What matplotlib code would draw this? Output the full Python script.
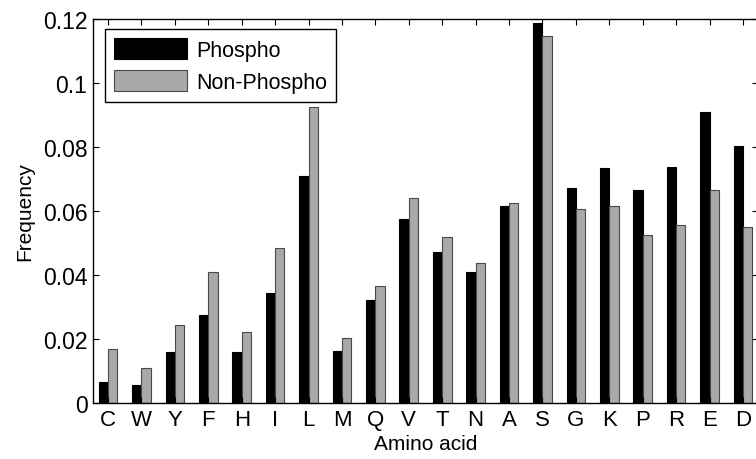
import matplotlib
matplotlib.use("Agg")
import matplotlib.pyplot as plt
import numpy as np

amino_acids = ["C", "W", "Y", "F", "H", "I", "L", "M", "Q", "V",
               "T", "N", "A", "S", "G", "K", "P", "R", "E", "D"]
phospho = [0.0066, 0.0055, 0.0158, 0.0274, 0.0158, 0.0345, 0.0710, 0.0162, 0.0323, 0.0574,
           0.0471, 0.0410, 0.0616, 0.1188, 0.0673, 0.0733, 0.0667, 0.0739, 0.0908, 0.0804]
non_phospho = [0.0169, 0.0108, 0.0245, 0.0408, 0.0223, 0.0485, 0.0924, 0.0202, 0.0366, 0.0640,
               0.0520, 0.0437, 0.0625, 0.1148, 0.0606, 0.0617, 0.0524, 0.0557, 0.0667, 0.0551]
y_ticks = [0, 0.02, 0.04, 0.06, 0.08, 0.1, 0.12]
y_tick_labels = ["0", "0.02", "0.04", "0.06", "0.08", "0.1", "0.12"]

plt.rcParams["font.family"] = ["Liberation Sans", "DejaVu Sans"]

fig = plt.figure(figsize=(7.56, 4.60), dpi=100)
ax = fig.add_axes([93 / 756, 56 / 460, 665 / 756, 384 / 460])

x = np.arange(len(amino_acids))
w = 0.28
ax.bar(x - w / 2, phospho, w, color="black", edgecolor="black", linewidth=0.8,
       label="Phospho")
ax.bar(x + w / 2, non_phospho, w, color="#a9a9a9", edgecolor="#4a4a4a", linewidth=0.8,
       label="Non-Phospho")

ax.set_xlim(-0.45, len(amino_acids) - 0.55)
ax.set_ylim(0, 0.12)
ax.set_xticks(x)
ax.set_xticklabels(amino_acids, fontsize=16)
ax.set_yticks(y_ticks)
ax.set_yticklabels(y_tick_labels, fontsize=16.5)
ax.tick_params(direction="in", length=4, width=0.8, top=True, right=True, pad=4)

ax.set_xlabel("Amino acid", fontsize=15, labelpad=3)
ax.set_ylabel("Frequency", fontsize=15, labelpad=6)

for s in ax.spines.values():
    s.set_linewidth(1.0)

leg = ax.legend(loc="upper left", bbox_to_anchor=(0.018, 0.974), fontsize=15.5,
                frameon=True, fancybox=False, edgecolor="black", framealpha=1,
                handlelength=3.4, handleheight=1.15, handletextpad=0.4,
                borderpad=0.42, labelspacing=0.42, borderaxespad=0)
leg.get_frame().set_linewidth(1.0)

fig.savefig("out.png", dpi=100)
